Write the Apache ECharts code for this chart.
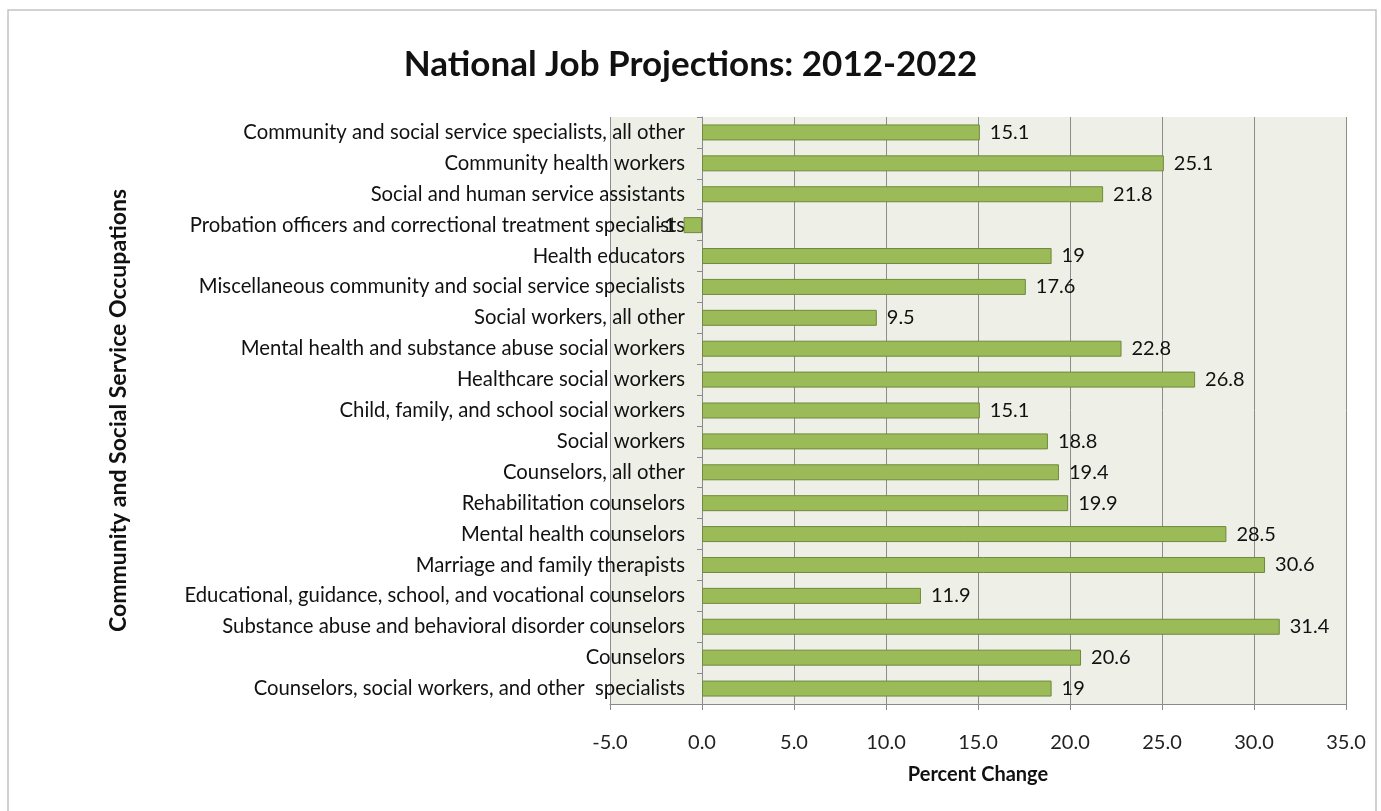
<!DOCTYPE html>
<html>
<head>
<meta charset="utf-8">
<script src="https://cdn.jsdelivr.net/npm/echarts@6/dist/echarts.min.js"></script>
<style>
html,body{margin:0;padding:0;background:#fff;}
#chart{width:1381px;height:811px;}
</style>
</head>
<body>
<div id="chart"></div>
<script>
const categories = [
  "Community and social service specialists, all other",
  "Community health workers",
  "Social and human service assistants",
  "Probation officers and correctional treatment specialists",
  "Health educators",
  "Miscellaneous community and social service specialists",
  "Social workers, all other",
  "Mental health and substance abuse social workers",
  "Healthcare social workers",
  "Child, family, and school social workers",
  "Social workers",
  "Counselors, all other",
  "Rehabilitation counselors",
  "Mental health counselors",
  "Marriage and family therapists",
  "Educational, guidance, school, and vocational counselors",
  "Substance abuse and behavioral disorder counselors",
  "Counselors",
  "Counselors, social workers, and other  specialists"
];
const percentChange = [15.1, 25.1, 21.8, -1, 19, 17.6, 9.5, 22.8, 26.8, 15.1, 18.8, 19.4, 19.9, 28.5, 30.6, 11.9, 31.4, 20.6, 19];
const xTicks = { min: -5, max: 35, interval: 5 };
const titleText = "National Job Projections: 2012-2022";
const xAxisTitle = "Percent Change";
const yAxisTitle = "Community and Social Service Occupations";

const FONT = "Lato";
const chart = echarts.init(document.getElementById('chart'), null, { renderer: 'canvas' });

const barData = percentChange.map(v => ({
  value: v,
  label: { position: v < 0 ? 'left' : 'right', distance: v < 0 ? 8 : 10 }
}));

chart.setOption({
  backgroundColor: '#ffffff',
  animation: false,
  title: {
    text: titleText,
    left: 'center',
    top: 42,
    textStyle: { fontFamily: FONT, fontWeight: 'bold', fontSize: 35, color: '#111' }
  },
  graphic: [{
    type: 'rect',
    shape: { x: 8, y: 10, width: 1368, height: 830 },
    style: { fill: 'none', stroke: '#c4c4c4', lineWidth: 1.5 },
    z: -10
  }],
  grid: {
    left: 610, right: 35, top: 117, bottom: 107,
    show: true, backgroundColor: '#eef0e7', borderWidth: 0
  },
  xAxis: {
    type: 'value',
    min: xTicks.min, max: xTicks.max, interval: xTicks.interval,
    name: xAxisTitle,
    nameLocation: 'middle',
    nameGap: 61,
    nameTextStyle: { fontFamily: FONT, fontWeight: 'bold', fontSize: 20, color: '#111' },
    axisLine: { show: true, lineStyle: { color: '#8a8a8a', width: 1 } },
    axisTick: { show: true, length: 6, lineStyle: { color: '#8a8a8a' } },
    axisLabel: {
      fontFamily: FONT, fontSize: 20, color: '#222', margin: 29,
      formatter: v => v.toFixed(1)
    },
    splitLine: { show: true, lineStyle: { color: '#8c8c8c', width: 1 } }
  },
  yAxis: {
    type: 'category',
    data: categories,
    inverse: true,
    name: yAxisTitle,
    nameLocation: 'middle',
    nameRotate: 90,
    nameGap: 480,
    nameTextStyle: { fontFamily: FONT, fontWeight: 'bold', fontSize: 23, color: '#111' },
    axisLine: { show: true, onZero: true, lineStyle: { color: '#8a8a8a', width: 1 } },
    axisTick: { show: true, length: 5, lineStyle: { color: '#8a8a8a' } },
    axisLabel: { fontFamily: FONT, fontSize: 20.3, color: '#111', margin: -75 },
    splitLine: { show: false }
  },
  series: [{
    type: 'bar',
    data: barData,
    barWidth: 16,
    itemStyle: { color: '#9bbb59', borderColor: '#70893c', borderWidth: 1 },
    label: {
      show: true,
      fontFamily: FONT, fontSize: 20, color: '#111'
    }
  }]
});
</script>
</body>
</html>
